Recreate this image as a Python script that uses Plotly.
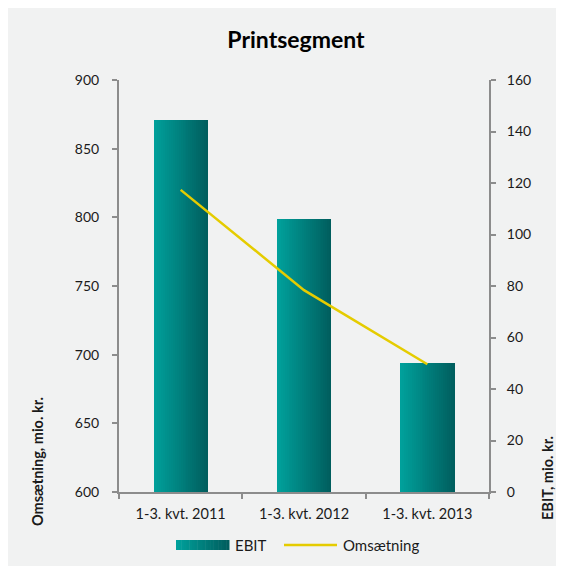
import plotly.graph_objects as go

categories = ["1-3. kvt. 2011", "1-3. kvt. 2012", "1-3. kvt. 2013"]
ebit = [144.5, 106, 50]          # right axis, mio. kr.
omsaetning = [820, 747, 693]     # left axis, mio. kr.

FONT = "Lato"
TXT = "#1a1a1a"
AXC = "#8c8c8c"
BG = "#f1f2f2"
c_left = (0, 160, 155)
c_right = (0, 94, 94)

OFF = 8  # page body margin
W_PX, H_PX = 556, 558
L, T = 119 - OFF, 80 - OFF
PW, PH = 370, 412
R, B = W_PX - L - PW, H_PX - T - PH

def px_x(x):
    return (x - OFF - L) / PW

def px_y(y):
    return (T + PH - (y - OFF)) / PH

def lerp(a, b, t):
    return "rgb(%d,%d,%d)" % tuple(round(a[k] + (b[k] - a[k]) * t) for k in range(3))

fig = go.Figure()

N = 28
BW = 0.44
for i in range(N):
    t = i / (N - 1)
    fig.add_trace(go.Bar(
        x=categories, y=ebit, yaxis="y",
        width=[BW / N * 1.05] * 3,
        offset=[-BW / 2 + i * BW / N] * 3,
        marker=dict(color=lerp(c_left, c_right, t), line=dict(width=0)),
        showlegend=False, hoverinfo="skip",
    ))

fig.add_trace(go.Scatter(
    x=categories, y=omsaetning, yaxis="y2", mode="lines",
    line=dict(color="#e5cc00", width=2.5), showlegend=False,
))

shapes = []
# custom legend
lx0, lx1 = 176, 229
ly0, ly1 = 540, 550
M = 20
for i in range(M):
    t = i / (M - 1)
    a = lx0 + (lx1 - lx0) * i / M
    b = lx0 + (lx1 - lx0) * (i + 1) / M + 0.5
    shapes.append(dict(type="rect", xref="paper", yref="paper",
                       x0=px_x(a), x1=px_x(b), y0=px_y(ly1), y1=px_y(ly0),
                       fillcolor=lerp(c_left, c_right, t), line=dict(width=0)))
shapes.append(dict(type="line", xref="paper", yref="paper",
                   x0=px_x(284), x1=px_x(337), y0=px_y(545), y1=px_y(545),
                   line=dict(color="#e5cc00", width=2.5)))

annotations = [
    dict(text="EBIT", xref="paper", yref="paper", x=px_x(233), y=px_y(545),
         xanchor="left", yanchor="middle", showarrow=False,
         font=dict(family=FONT, size=15, color=TXT)),
    dict(text="Omsætning", xref="paper", yref="paper", x=px_x(341), y=px_y(545),
         xanchor="left", yanchor="middle", showarrow=False,
         font=dict(family=FONT, size=15, color=TXT)),
    dict(text="<b>Omsætning, mio. kr.</b>", xref="paper", yref="paper",
         x=px_x(37), y=px_y(462), textangle=-90, xanchor="center", yanchor="middle",
         showarrow=False, font=dict(family=FONT, size=14.5, color=TXT)),
    dict(text="<b>EBIT, mio. kr.</b>", xref="paper", yref="paper",
         x=px_x(547), y=px_y(478), textangle=-90, xanchor="center", yanchor="middle",
         showarrow=False, font=dict(family=FONT, size=14.5, color=TXT)),
]

fig.update_layout(
    width=W_PX, height=H_PX,
    margin=dict(l=L, r=R, t=T, b=B),
    paper_bgcolor=BG, plot_bgcolor="rgba(0,0,0,0)",
    barmode="overlay", bargap=0,
    title=dict(text="<b>Printsegment</b>", x=(296 - OFF) / W_PX, y=1 - (40 - OFF) / H_PX,
               xanchor="center", yanchor="middle", xref="container", yref="container",
               font=dict(family=FONT, size=23, color="black")),
    font=dict(family=FONT, size=14, color=TXT),
    xaxis=dict(type="category", showgrid=False, showline=True, linecolor=AXC, linewidth=2,
               ticks="outside", tickson="boundaries", ticklen=5, tickcolor=AXC, tickwidth=2,
               tickfont=dict(family=FONT, size=14.5, color=TXT), ticklabelstandoff=8),
    yaxis=dict(side="right", range=[0, 160], dtick=20, showgrid=False, zeroline=False,
               showline=True, linecolor=AXC, linewidth=2, ticks="outside", ticklen=5,
               tickcolor=AXC, tickwidth=2, ticklabelstandoff=8,
               tickfont=dict(family=FONT, size=14, color=TXT)),
    yaxis2=dict(side="left", overlaying="y", range=[600, 900], dtick=50, showgrid=False,
                zeroline=False, showline=True, linecolor=AXC, linewidth=2, ticks="outside",
                ticklen=5, tickcolor=AXC, tickwidth=2, ticklabelstandoff=10,
                tickfont=dict(family=FONT, size=14, color=TXT)),
    shapes=shapes, annotations=annotations, showlegend=False,
)

fig.write_html("out.html")
